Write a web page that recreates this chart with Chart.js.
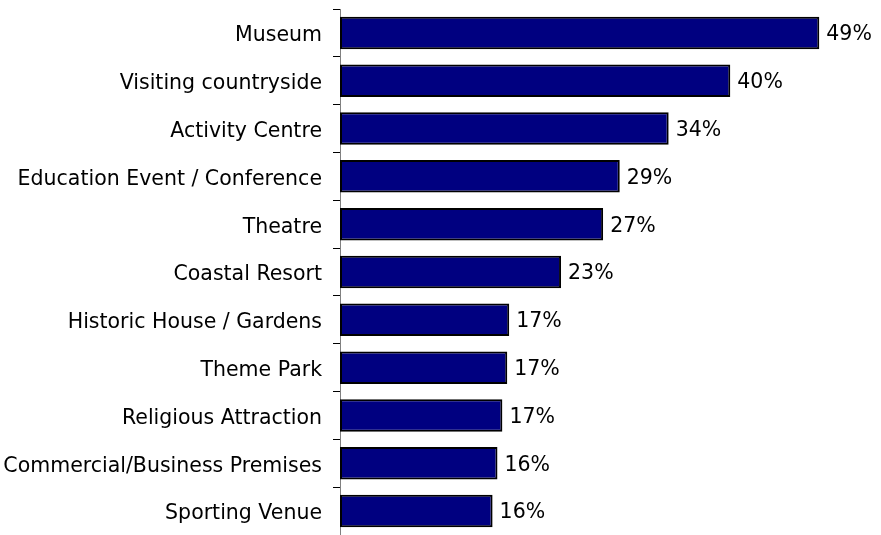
<!DOCTYPE html>
<html>
<head>
<meta charset="utf-8">
<script src="https://cdn.jsdelivr.net/npm/chart.js@4"></script>
<style>
  html, body { margin: 0; padding: 0; background: #fff; }
  #wrap { width: 881px; height: 535px; }
</style>
</head>
<body>
<div id="wrap"><canvas id="chart" width="881" height="535"></canvas></div>
<script>
// Venues visited (share of respondents, %)
const categories = [
  'Museum',
  'Visiting countryside',
  'Activity Centre',
  'Education Event / Conference',
  'Theatre',
  'Coastal Resort',
  'Historic House / Gardens',
  'Theme Park',
  'Religious Attraction',
  'Commercial/Business Premises',
  'Sporting Venue'
];
const shares = [49.0, 39.9, 33.6, 28.6, 26.9, 22.6, 17.3, 17.1, 16.6, 16.1, 15.6];

const FONT = 'DejaVu Sans, Verdana, sans-serif';
const FONT_SIZE = 20.5;

// Writes the rounded percentage just past the end of each bar
const valueLabels = {
  id: 'valueLabels',
  afterDatasetsDraw(chart) {
    const ctx = chart.ctx;
    const meta = chart.getDatasetMeta(0);
    ctx.save();
    ctx.font = FONT_SIZE + 'px ' + FONT;
    ctx.fillStyle = '#000';
    ctx.textAlign = 'left';
    ctx.textBaseline = 'middle';
    meta.data.forEach((bar, i) => {
      ctx.fillText(Math.round(shares[i]) + '%', bar.x + 7, bar.y + 2);
    });
    ctx.restore();
  }
};

new Chart(document.getElementById('chart'), {
  type: 'bar',
  data: {
    labels: categories,
    datasets: [{
      data: shares,
      backgroundColor: '#000080',
      borderColor: '#000000',
      borderWidth: 2,
      borderSkipped: false,
      barPercentage: 0.68,
      categoryPercentage: 1
    }]
  },
  options: {
    indexAxis: 'y',
    responsive: false,
    animation: false,
    layout: { padding: { top: 9, right: 3, bottom: 0, left: 0 } },
    plugins: {
      legend: { display: false },
      tooltip: { enabled: false }
    },
    scales: {
      x: {
        display: false,
        min: 0,
        max: 55
      },
      y: {
        afterFit(scale) {
          scale.width = 340;
          scale.paddingTop = 0;
          scale.paddingBottom = 0;
        },
        border: { display: true, color: '#808080', width: 1 },
        grid: {
          display: true,
          drawOnChartArea: false,
          drawTicks: true,
          tickLength: 7,
          color: '#000000',
          lineWidth: 1,
          offset: true
        },
        ticks: {
          color: '#000000',
          padding: 11,
          labelOffset: 3,
          autoSkip: false,
          font: { family: FONT, size: FONT_SIZE }
        }
      }
    }
  },
  plugins: [valueLabels]
});
</script>
</body>
</html>
